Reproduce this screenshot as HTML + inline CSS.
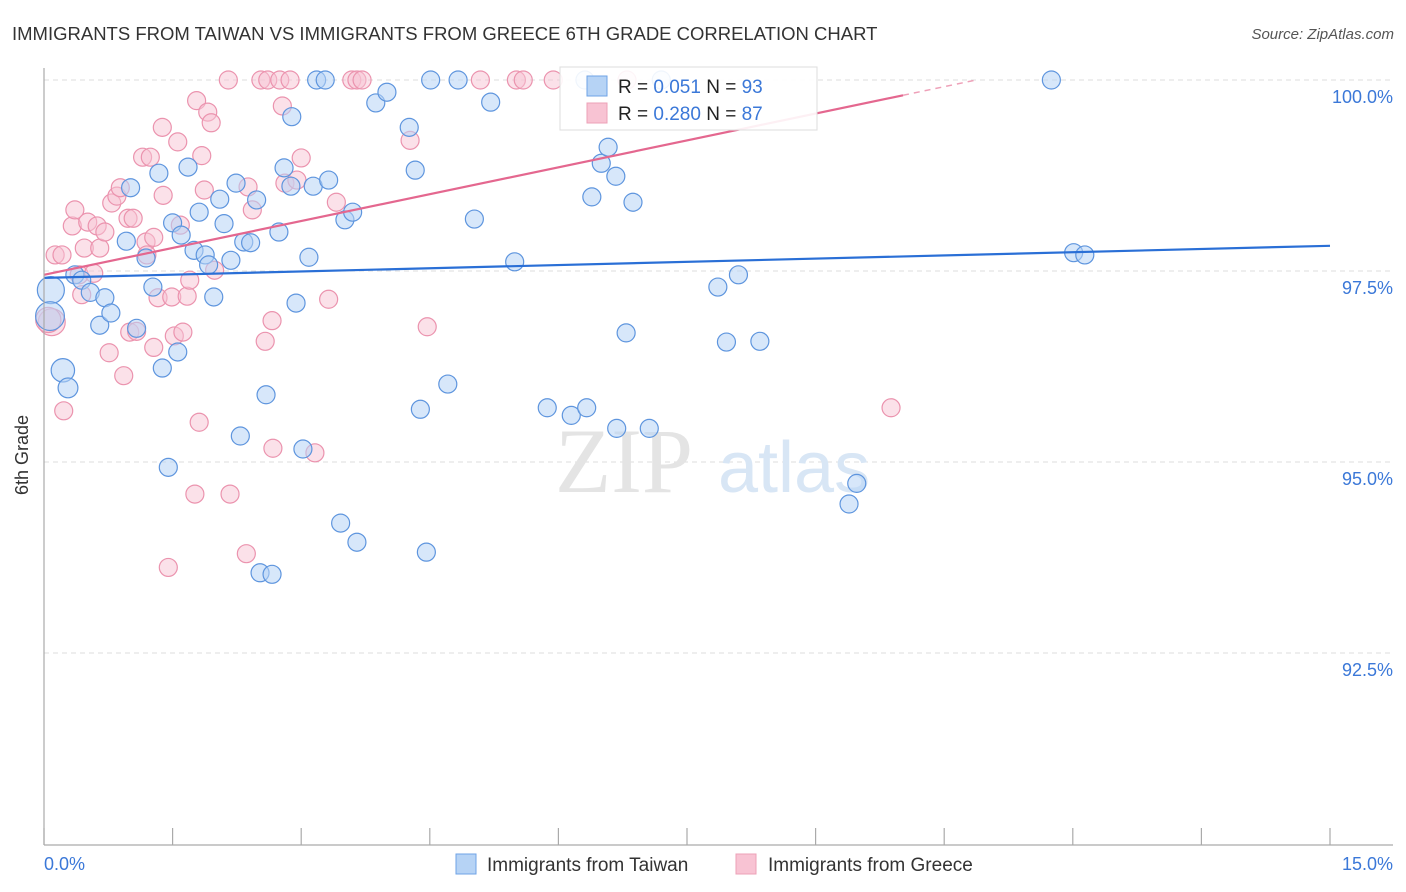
<!DOCTYPE html>
<html><head><meta charset="utf-8">
<style>
body{margin:0;background:#fff;font-family:"Liberation Sans",sans-serif;}
#wrap{position:relative;width:1406px;height:892px;overflow:hidden;}
</style></head>
<body>
<div id="wrap">
<svg id="chart" width="1406" height="892" xmlns="http://www.w3.org/2000/svg">
<text x="12" y="40" font-size="18.5" fill="#333">IMMIGRANTS FROM TAIWAN VS IMMIGRANTS FROM GREECE 6TH GRADE CORRELATION CHART</text>
<text x="1394" y="39" font-size="15" fill="#555" font-style="italic" text-anchor="end">Source: ZipAtlas.com</text>
<g id="grid"></g>
<text x="555" y="492" font-size="92" fill="#e4e4e4" font-family="Liberation Serif,serif">ZIP</text>
<text x="718" y="492" font-size="72" fill="#d8e6f5">atlas</text>
<g id="pts"></g>
<g id="lines"></g>
<line x1="44" y1="68" x2="44" y2="845" stroke="#aaa" stroke-width="1.2"/>
<line x1="44" y1="845" x2="1393" y2="845" stroke="#aaa" stroke-width="1.2"/>
<g id="xt"></g>
<text x="28" y="455" font-size="18" fill="#333" text-anchor="middle" transform="rotate(-90 28 455)">6th Grade</text>
<text x="44" y="870" font-size="18" fill="#3b78d8">0.0%</text>
<text x="1393" y="870" font-size="18" fill="#3b78d8" text-anchor="end">15.0%</text>
<g>
<rect x="560" y="67" width="257" height="63" fill="#fff" fill-opacity="0.9" stroke="#ddd"/>
<rect x="587" y="76" width="20" height="20" fill="#b6d3f5" stroke="#6fa3e6"/>
<rect x="587" y="103" width="20" height="20" fill="#f8c3d3" stroke="#eda0b7"/>
<text x="618" y="93" font-size="19" fill="#222">R = <tspan fill="#3b78d8">0.051</tspan>   N = <tspan fill="#3b78d8">93</tspan></text>
<text x="618" y="120" font-size="19" fill="#222">R = <tspan fill="#3b78d8">0.280</tspan>   N = <tspan fill="#3b78d8">87</tspan></text>
</g>
<g>
<rect x="456" y="854" width="20" height="20" fill="#b6d3f5" stroke="#6fa3e6"/>
<text x="487" y="871" font-size="19" fill="#333">Immigrants from Taiwan</text>
<rect x="736" y="854" width="20" height="20" fill="#f8c3d3" stroke="#eda0b7"/>
<text x="768" y="871" font-size="19" fill="#333">Immigrants from Greece</text>
</g>
</svg>
</div>
<script>
const yTicks=[100,97.5,95,92.5];
const yTickLabels=["100.0%","97.5%","95.0%","92.5%"];
const xTicks=[0,1.5,3,4.5,6,7.5,9,10.5,12,13.5,15];
const taiwanX=[0.08,0.07,0.22,0.28,0.36,0.44,0.54,0.65,0.71,0.78,0.96,1.01,1.08,1.19,1.27,1.34,1.38,1.50,1.56,1.60,1.68,1.75,1.81,1.88,1.92,1.98,2.05,2.10,2.18,2.24,2.33,2.41,2.48,2.59,2.29,1.45,2.52,2.66,2.74,2.80,2.88,2.94,3.02,3.09,3.14,3.18,3.28,3.32,3.46,3.51,3.60,3.65,3.87,4.00,4.26,4.33,4.39,4.46,4.51,4.71,4.83,5.02,5.21,5.49,5.87,6.15,6.31,6.33,6.39,6.50,6.58,6.68,6.67,6.79,6.87,7.06,7.20,7.86,7.96,8.10,8.35,9.39,9.48,11.75,12.01,12.14,2.89];
const taiwanY=[97.25,96.91,96.20,95.97,97.45,97.38,97.22,96.79,97.15,96.95,97.89,98.59,96.75,97.67,97.29,98.78,96.23,98.13,96.44,97.97,98.86,97.77,98.27,97.71,97.58,97.16,98.44,98.12,97.64,98.65,97.88,97.87,98.43,95.88,95.34,94.93,93.55,93.53,98.01,98.85,98.61,97.08,95.17,97.68,98.61,100,100,98.69,94.20,98.17,98.27,93.95,99.70,99.84,99.38,98.82,95.69,93.82,100,96.02,100,98.18,99.71,97.62,95.71,95.61,100,95.71,98.47,98.91,99.12,95.44,98.74,96.69,98.40,95.44,100,97.29,96.57,97.45,96.58,94.45,94.72,100,97.74,97.71,99.52];
const taiwanW=[1.5,1.6,1.3,1.1];
const greeceX=[0.09,0.05,0.13,0.21,0.23,0.33,0.36,0.41,0.44,0.47,0.58,0.51,0.62,0.65,0.71,0.76,0.79,0.85,0.89,0.93,0.98,1.00,1.04,1.08,1.15,1.19,1.20,1.24,1.28,1.28,1.33,1.38,1.39,1.45,1.49,1.52,1.56,1.59,1.62,1.67,1.70,1.76,1.78,1.81,1.84,1.87,1.91,1.95,1.99,2.15,2.17,2.36,2.38,2.43,2.53,2.58,2.61,2.66,2.67,2.75,2.78,2.81,2.87,2.95,3.00,3.16,3.32,3.41,3.59,3.65,3.71,4.27,4.47,5.09,5.51,5.59,5.94,6.80,9.88];
const greeceY=[96.83,96.86,97.71,97.71,95.67,98.09,98.30,97.45,97.19,97.80,97.47,98.14,98.09,97.80,98.01,96.43,98.39,98.48,98.59,96.13,98.19,96.70,98.19,96.71,98.99,97.88,97.71,98.99,97.94,96.50,97.15,99.38,98.49,93.62,97.16,96.65,99.19,98.10,96.70,97.17,97.38,94.58,99.73,95.52,99.01,98.56,99.58,99.44,97.51,100,94.58,93.80,98.60,98.30,100,96.58,100,96.85,95.18,100,99.66,98.65,100,98.69,98.98,95.12,97.13,98.40,100,100,100,99.21,96.77,100,100,100,100,100,95.71];
const greeceW=[1.5,1.4];
const taiwanTrend=[97.41,97.83];
const greeceTrend=[97.45,99.80];
const greeceTrendEndX=10.02;

const NS="http://www.w3.org/2000/svg";
const xs=v=>44+v*(1330-44)/15;
const ys=v=>80+(100-v)*76.4;
function mk(tag,parent,attrs){const e=document.createElementNS(NS,tag);for(const k in attrs)e.setAttribute(k,attrs[k]);parent.appendChild(e);return e;}
const grid=document.getElementById('grid');
yTicks.forEach((t,i)=>{
  const l=mk('line',grid,{x1:44,x2:1393,y1:ys(t),y2:ys(t),stroke:'#ddd','stroke-dasharray':'5,4'});
  
  
  const tx=mk('text',grid,{x:1393,y:ys(t)+23,'font-size':18,fill:'#3b78d8','text-anchor':'end'});
  tx.textContent=yTickLabels[i];
  
  
});
const xt=document.getElementById('xt');
xTicks.forEach(t=>{
  const l=mk('line',xt,{x1:xs(t),x2:xs(t),y1:828,y2:845,stroke:'#aaa','stroke-width':1.2});
  
  
});
const pts=document.getElementById('pts');
greeceX.forEach((x,i)=>{
  const c=mk('circle',pts,{cx:xs(x),cy:ys(greeceY[i]),r:9*(greeceW[i]||1),fill:'#f8c3d3','fill-opacity':0.5,stroke:'#eb93ae','stroke-width':1.2});
  
  
});
taiwanX.forEach((x,i)=>{
  const c=mk('circle',pts,{cx:xs(x),cy:ys(taiwanY[i]),r:9*(taiwanW[i]||1),fill:'#b6d3f5','fill-opacity':0.55,stroke:'#5e95de','stroke-width':1.2});
  
  
});
const lines=document.getElementById('lines');
const tl=mk('line',lines,{x1:xs(0),y1:ys(taiwanTrend[0]),x2:xs(15),y2:ys(taiwanTrend[1]),stroke:'#2a6fd6','stroke-width':2.2});


const slope=(greeceTrend[1]-greeceTrend[0])/greeceTrendEndX;
const gl=mk('line',lines,{x1:xs(0),y1:ys(greeceTrend[0]),x2:xs(greeceTrendEndX),y2:ys(greeceTrend[1]),stroke:'#e4678f','stroke-width':2.2});


const xEnd=(100-greeceTrend[0])/slope;
const gd=mk('line',lines,{x1:xs(greeceTrendEndX),y1:ys(greeceTrend[1]),x2:xs(xEnd),y2:ys(100),stroke:'#eea0b8','stroke-width':1.5,'stroke-dasharray':'6,5'});


</script>
</body></html>
